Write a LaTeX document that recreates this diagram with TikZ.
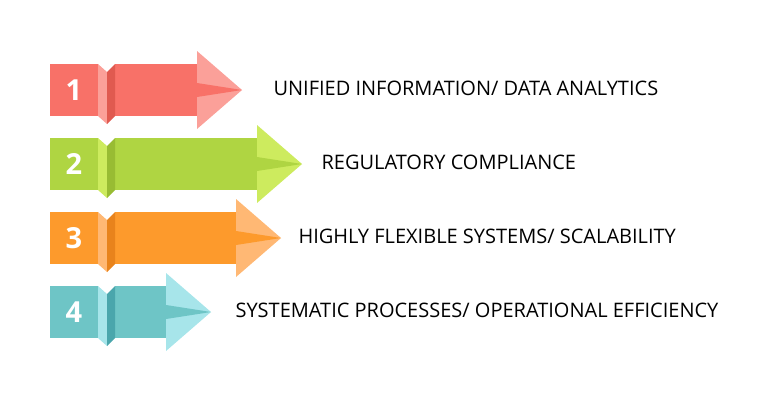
\documentclass[tikz,border=0pt]{standalone}
\usepackage{fontspec}
\setmainfont{Open Sans}
\definecolor{redB}{HTML}{F87168}\definecolor{redL}{HTML}{FBA099}\definecolor{redD}{HTML}{E05A50}
\definecolor{grnB}{HTML}{AFD542}\definecolor{grnL}{HTML}{CDEB5E}\definecolor{grnD}{HTML}{98BC33}
\definecolor{orgB}{HTML}{FD9A2C}\definecolor{orgL}{HTML}{FFB874}\definecolor{orgD}{HTML}{E8831C}
\definecolor{tealB}{HTML}{6EC5C6}\definecolor{tealL}{HTML}{A7E5EA}\definecolor{tealD}{HTML}{4AA6AC}
\begin{document}
\begin{tikzpicture}
[x=1pt,y=-1pt
,num/.style={text=white,font=\fontsize{29}{29}\selectfont\bfseries}
,lbl/.style={anchor=west,font=\fontsize{20}{21}\selectfont}]
\useasboundingbox (0,0) rectangle (780,400);
\foreach \n/\yc/\hb/\tx/\cB/\cL/\cD/\txt in
  {1/90/197/270/redB/redL/redD/{UNIFIED INFORMATION/ DATA ANALYTICS},
   2/164/257/318/grnB/grnL/grnD/{REGULATORY COMPLIANCE},
   3/238/236/295/orgB/orgL/orgD/{HIGHLY FLEXIBLE SYSTEMS/ SCALABILITY},
   4/312/166/232/tealB/tealL/tealD/{SYSTEMATIC PROCESSES/ OPERATIONAL EFFICIENCY}}
{
  % body and fold
  \fill[\cB] (50,\yc-26) rectangle (98,\yc+26);
  \fill[\cB] (115,\yc-26) rectangle (\hb+1,\yc+26);
  \fill[\cL] (98,\yc-26) -- (107,\yc-18) -- (107,\yc+34) -- (98,\yc+26) -- cycle;
  \fill[\cD] (107,\yc-18) -- (115,\yc-26) -- (115,\yc+26) -- (107,\yc+34) -- cycle;
  % head
  \fill[\cL] (\hb,\yc-39) -- (\hb+45,\yc) -- (\hb,\yc+39) -- cycle;
  \fill[\cB] (\hb,\yc-7) -- (\hb+45,\yc) -- (\hb,\yc+7) -- cycle;
  \node[num] (n\n) at (74,\yc) {\n};
  \node[lbl] (t\n) at (\tx,\yc-2) {\txt};
}
\end{tikzpicture}
\end{document}
